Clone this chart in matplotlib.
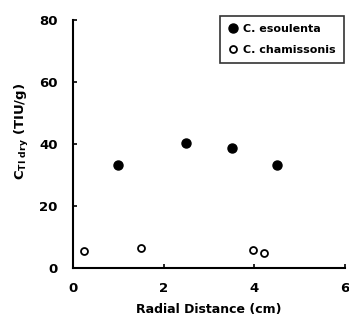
import matplotlib
matplotlib.use("Agg")
import matplotlib.pyplot as plt

esc_x = [1.0, 2.5, 3.5, 4.5]
esc_y = [33.2, 40.3, 38.7, 33.2]
cham_x = [0.25, 1.5, 3.97, 4.22]
cham_y = [5.5, 6.5, 5.8, 4.8]

xticks = [0, 2, 4, 6]
yticks = [0, 20, 40, 60, 80]

plt.rcParams['font.family'] = ['DejaVu Sans']
plt.rcParams['font.weight'] = 'bold'

fig = plt.figure(figsize=(3.49, 3.2), dpi=100)
ax = fig.add_axes([0.209, 0.1625, 0.78, 0.775])

ax.plot(esc_x, esc_y, 'o', color='black', ms=6.5, label='C. esoulenta')
ax.plot(cham_x, cham_y, 'o', mfc='white', mec='black', mew=1.3, ms=5, label='C. chamissonis')

ax.set_xlim(0, 6)
ax.set_ylim(0, 80)
ax.set_xticks(xticks)
ax.set_yticks(yticks)
ax.tick_params(direction='in', length=3, width=1.2, labelsize=9.5)
ax.tick_params(axis='x', pad=10)
ax.tick_params(axis='y', pad=11)
for lbl in ax.get_xticklabels() + ax.get_yticklabels():
    lbl.set_fontweight('bold')

for side in ['top', 'right']:
    ax.spines[side].set_visible(False)
for side in ['left', 'bottom']:
    ax.spines[side].set_linewidth(1.5)

ax.set_xlabel('Radial Distance (cm)', fontsize=9, fontweight='bold', labelpad=6)
ax.set_ylabel(r'C$_{\mathbf{TI\ dry}}$ (TIU/g)', fontsize=9.5, fontweight='bold')
ax.yaxis.set_label_coords(-0.155, 0.55)

leg = ax.legend(loc='upper right', fontsize=8, frameon=True, fancybox=False,
                edgecolor='black', handletextpad=0.4, borderpad=0.7,
                labelspacing=1.0, handlelength=1.0, borderaxespad=0,
                bbox_to_anchor=(0.995, 1.015))
leg.get_frame().set_linewidth(1.2)
for t in leg.get_texts():
    t.set_fontweight('bold')

fig.savefig('out.png', dpi=100)
